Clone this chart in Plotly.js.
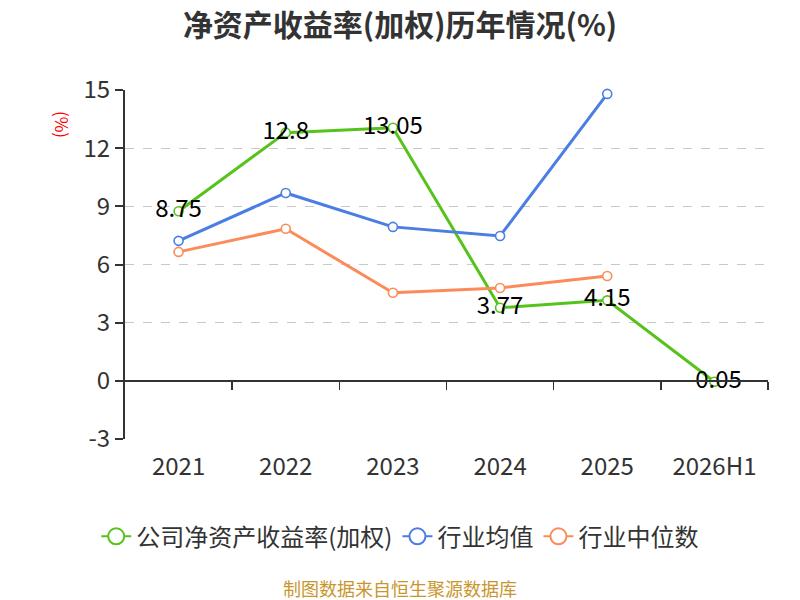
<!DOCTYPE html>
<html>
<head>
<meta charset="utf-8">
<script src="https://cdn.plot.ly/plotly-3.0.1.min.js"></script>
<style>
  html, body { margin: 0; padding: 0; background: #fff; }
  #chart { width: 800px; height: 600px; }
</style>
</head>
<body>
<div id="chart"></div>
<script>
const years = ['2021', '2022', '2023', '2024', '2025', '2026H1'];

const companyRoe = [8.75, 12.8, 13.05, 3.77, 4.15, -0.05];
const industryAvg = [7.22, 9.69, 7.94, 7.47, 14.8];
const industryMedian = [6.65, 7.84, 4.54, 4.79, 5.41];

const yTickVals = [-3, 0, 3, 6, 9, 12, 15];
const yTickText = ['-3', '0', '3', '6', '9', '12', '15'];
const boundaryTicks = [0.5, 1.5, 2.5, 3.5, 4.5, 5.5];

const font = '"Noto Sans CJK SC", "Noto Sans", sans-serif';

function lineTrace(name, y, color, withText) {
    const t = {
        x: years.slice(0, y.length),
        y: y,
        name: name,
        type: 'scatter',
        mode: withText ? 'lines+markers+text' : 'lines+markers',
        line: {color: color, width: 3},
        marker: {size: 9, color: '#fff', line: {color: color, width: 1.6}},
        cliponaxis: false,
        showlegend: false,
    };
    if (withText) {
        t.text = y.map(v => String(v));
        t.textposition = 'middle center';
        t.textfont = {family: font, size: 24, color: '#000'};
    }
    return t;
}

// legend-only entries with a bigger open circle
function legendTrace(name, color) {
    return {
        x: [years[0]], y: [null],
        name: name,
        type: 'scatter',
        mode: 'lines+markers',
        line: {color: color, width: 2},
        marker: {size: 16, color: '#fff', line: {color: color, width: 2}},
        hoverinfo: 'skip',
    };
}

const data = [
    lineTrace('公司净资产收益率(加权)', companyRoe, '#56c21c', true),
    lineTrace('行业均值', industryAvg, '#4a7ee2', false),
    lineTrace('行业中位数', industryMedian, '#fb8c5a', false),
    legendTrace('公司净资产收益率(加权)', '#56c21c'),
    legendTrace('行业均值', '#4a7ee2'),
    legendTrace('行业中位数', '#fb8c5a'),
];

// invisible trace so the overlay axis is drawn
data.push({
    x: [0], y: [0], xaxis: 'x2', type: 'scatter', mode: 'markers',
    marker: {opacity: 0}, showlegend: false, hoverinfo: 'skip',
});

const layout = {
    width: 800,
    height: 600,
    margin: {l: 125, r: 32, t: 90, b: 161},
    paper_bgcolor: '#fff',
    plot_bgcolor: '#fff',
    font: {family: font, color: '#333'},
    title: {
        text: '<b>净资产收益率(加权)历年情况(%)</b>',
        font: {family: font, size: 30, color: '#333'},
        x: 0.5, xanchor: 'center',
        y: 0.958, yanchor: 'middle',
    },
    showlegend: true,
    legend: {
        orientation: 'h',
        x: 0.428, xanchor: 'center',
        y: -0.28, yanchor: 'middle',
        font: {family: font, size: 24, color: '#333'},
        itemsizing: 'trace',
    },
    xaxis: {
        type: 'category',
        categoryarray: years,
        range: [-0.5, 5.5],
        showline: false,
        showgrid: false,
        zeroline: false,
        ticks: 'outside',
        ticklen: 6,
        tickcolor: 'rgba(0,0,0,0)',
        tickfont: {family: font, size: 24, color: '#333'},
    },
    xaxis2: {
        overlaying: 'x',
        anchor: 'free',
        position: 1 / 6,
        range: [-0.5, 5.5],
        showline: true,
        linecolor: '#333',
        linewidth: 2,
        showgrid: false,
        zeroline: false,
        tickmode: 'array',
        tickvals: boundaryTicks,
        ticks: 'outside',
        ticklen: 8,
        tickwidth: 1.5,
        tickcolor: '#333',
        showticklabels: false,
    },
    yaxis: {
        range: [-3, 15],
        tickmode: 'array',
        tickvals: yTickVals,
        ticktext: yTickText,
        showline: true,
        linecolor: '#333',
        linewidth: 2,
        ticks: 'outside',
        ticklen: 8,
        tickwidth: 2,
        tickcolor: '#333',
        gridcolor: '#c8c8c8',
        griddash: 'dash',
        gridwidth: 1,
        zeroline: false,
        tickfont: {family: font, size: 24, color: '#333'},
    },
    annotations: [
        {
            text: '(%)',
            xref: 'paper', yref: 'paper',
            x: -0.098, y: 0.9,
            xanchor: 'center', yanchor: 'middle',
            textangle: 90,
            showarrow: false,
            font: {family: font, size: 17, color: '#f00'},
        },
        {
            text: '制图数据来自恒生聚源数据库',
            xref: 'paper', yref: 'paper',
            x: 0.428, y: -0.427,
            xanchor: 'center', yanchor: 'middle',
            showarrow: false,
            font: {family: font, size: 18, color: '#c9962e'},
        },
    ],
};

Plotly.newPlot('chart', data, layout, {displayModeBar: false, staticPlot: true});
</script>
</body>
</html>
